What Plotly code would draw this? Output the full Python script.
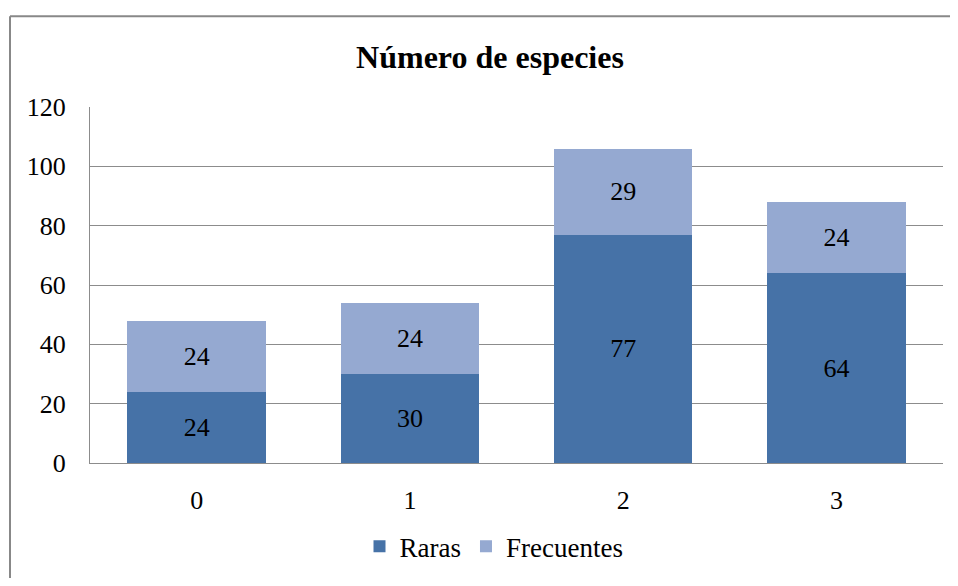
import plotly.graph_objects as go

categories = ["0", "1", "2", "3"]
raras = [24, 30, 77, 64]
frecuentes = [24, 24, 29, 24]
y_ticks = [0, 20, 40, 60, 80, 100, 120]

FONT = "Liberation Serif, Times New Roman, DejaVu Serif, serif"
OFF = 8  # page body margin
W, H = 958 - 2 * OFF, 586 - 2 * OFF
L, T = 90 - OFF, 107 - OFF
R = W - (943 - OFF)
B = H - (468 - OFF)
pw, ph = W - L - R, H - T - B

def px(x):
    return (x - OFF - L) / pw

def py(y):
    return (H - B - (y - OFF)) / ph

fig = go.Figure()
fig.add_trace(go.Bar(x=categories, y=raras, name="Raras", marker_color="#4672A7",
                     marker_line_width=0, text=raras, textposition="inside",
                     insidetextanchor="middle", textfont=dict(family=FONT, size=26, color="black")))
fig.add_trace(go.Bar(x=categories, y=frecuentes, name="Frecuentes", marker_color="#95A9D1",
                     marker_line_width=0, text=frecuentes, textposition="inside",
                     insidetextanchor="middle", textfont=dict(family=FONT, size=26, color="black")))

fig.update_layout(
    width=W, height=H, barmode="stack", bargap=0.35,
    margin=dict(l=L, r=R, t=T, b=B),
    paper_bgcolor="white", plot_bgcolor="white",
    font=dict(family=FONT, size=26, color="black"),
    title=dict(text="<b>Número de especies</b>", font=dict(family=FONT, size=32, color="black"),
               x=px(490), xref="paper", xanchor="center",
               y=1 - (57 - OFF) / H, yref="container", yanchor="middle"),
    showlegend=True,
    legend=dict(orientation="h", x=px(494), xanchor="center",
                y=py(553), yanchor="middle",
                font=dict(family=FONT, size=27, color="black"), traceorder="normal",
                itemwidth=30),
    xaxis=dict(showgrid=False, showline=True, linecolor="#8c8c8c", linewidth=1,
               ticks="", ticklabelstandoff=14, tickfont=dict(family=FONT, size=26)),
    yaxis=dict(range=[0, 120], tickvals=y_ticks, showgrid=True, gridcolor="#8c8c8c",
               gridwidth=1, showline=True, linecolor="#8c8c8c", linewidth=1,
               ticks="", ticklabelstandoff=18, zeroline=False,
               tickfont=dict(family=FONT, size=26)),
    shapes=[
        dict(type="line", xref="paper", yref="paper",
             x0=px(10), x1=px(10), y0=py(600), y1=py(15),
             line=dict(color="#888888", width=2), layer="below"),
        dict(type="line", xref="paper", yref="paper",
             x0=px(10), x1=px(970), y0=py(15), y1=py(15),
             line=dict(color="#888888", width=2), layer="below"),
    ],
)

fig.write_html("out.html")
